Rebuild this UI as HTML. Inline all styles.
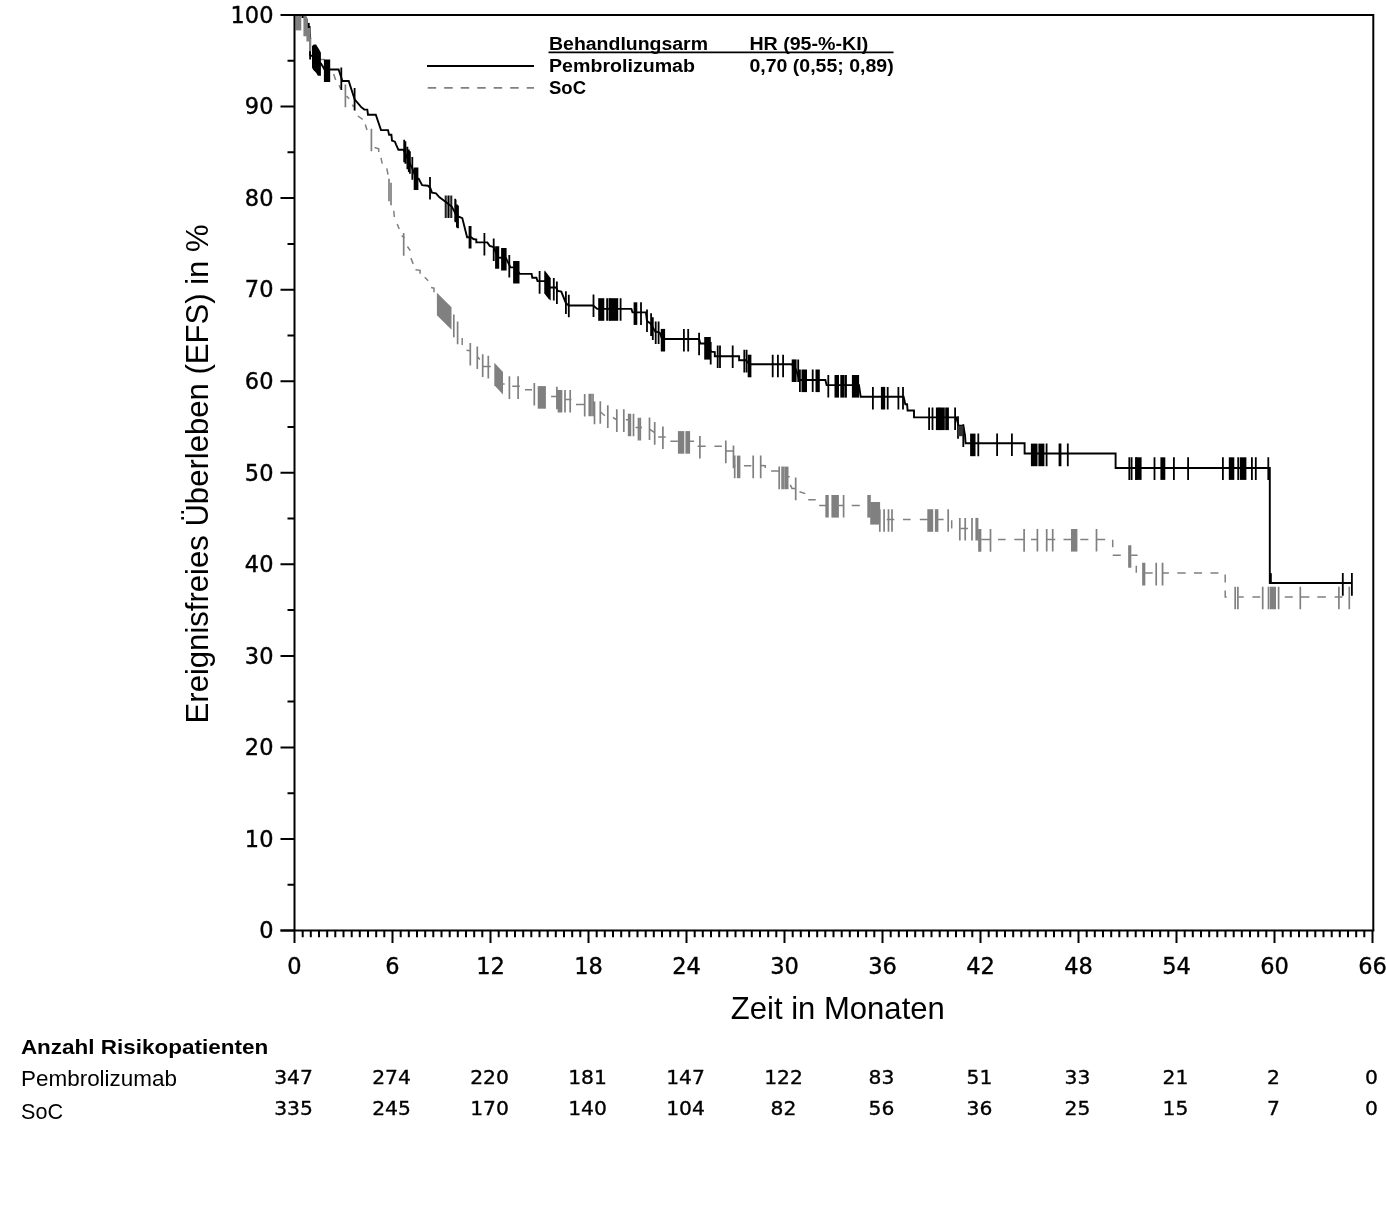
<!DOCTYPE html>
<html lang="de"><head><meta charset="utf-8"><title>EFS Kaplan-Meier</title>
<style>
html,body{margin:0;padding:0;background:#fff}
body{width:1386px;height:1208px;overflow:hidden}
svg{display:block}
.ax{font-family:"DejaVu Sans","Liberation Sans",sans-serif;font-size:22.5px;fill:#000;stroke:#000;stroke-width:.4px}
.nr{font-family:"DejaVu Sans","Liberation Sans",sans-serif;font-size:20.3px;fill:#000;stroke:#000;stroke-width:.35px}
.lb{font-family:"Liberation Sans",Arial,sans-serif;fill:#000}
</style></head><body>
<svg width="1386" height="1208" viewBox="0 0 1386 1208">
<rect width="1386" height="1208" fill="#fff"/>

<defs><clipPath id="cp"><rect x="294.5" y="15" width="1079" height="915.5"/></clipPath></defs>
<g clip-path="url(#cp)">
<g stroke="#808080" fill="none">
<path d="M318.0 59.4L324.6 59.4M333.6 74.0L335.7 80.0M339.0 85.3L340.5 88.5M346.5 96.1L349.2 98.8M352.4 104.7L353.5 106.9M357.8 116.0L362.7 119.3M365.3 124.6L367.0 130.0M374.6 147.5L378.7 148.7L378.7 152.1M381.0 157.9L382.2 163.7M386.8 168.4L388.0 174.7M393.8 210.7L394.3 217.0M397.2 224.0L399.2 229.0M401.7 235.5L404.4 238.0M407.4 246.5L410.3 250.6M410.9 258.1L413.2 263.9M415.5 269.7L420.1 270.3L420.1 273.7M424.8 277.2L428.2 280.7M431.1 287.6L434.0 288.2L434.0 292.3M462.2 338.1L462.2 345.0M466.5 350.3L470.3 350.8M477.3 356.6L479.8 359.5M482.7 366.5L490.8 366.5M502.4 383.9L504.7 383.9M512.3 386.2L519.8 386.2M525.0 389.7L532.0 389.7M551.1 396.6L556.9 396.6M565.0 399.5L571.4 399.5M576.0 404.4L584.6 404.4M600.3 411.7L604.9 415.8M613.0 417.5L616.8 419.8M625.8 419.8L630.4 419.8M635.6 427.4L642.0 427.4M649.5 429.1L654.7 432.6M658.2 437.0L665.7 437.0M670.4 441.3L677.9 441.3M689.5 441.3L694.1 441.3M697.6 446.2L705.7 446.2M714.4 446.2L721.9 446.2M726.0 451.1L733.5 451.1M733.5 456.9L734.7 466.8M743.9 465.8L751.4 465.8M760.7 465.5L765.3 465.8L765.3 468.1M771.1 471.0L779.2 471.0M786.8 476.8L789.7 476.8M790.3 484.9L792.0 488.4L795.7 488.4M799.5 491.8L805.3 493.6M808.2 499.7L815.7 499.7M819.2 505.4L826.2 505.4M838.9 505.4L843.6 505.4M851.7 505.4L859.8 505.4M886.8 519.4L894.3 519.4M903.0 519.4L910.6 519.4M919.8 519.4L927.9 519.4M937.8 519.4L943.6 519.4M951.7 520.3L951.7 528.4M960.4 528.4L967.9 528.4M981.2 539.4L990.5 539.4M998.0 539.4L1005.6 539.4M1014.3 539.4L1023.9 539.4M1031.0 539.4L1037.4 539.4M1046.7 539.4L1055.3 539.4M1063.5 539.4L1071.6 539.4M1080.3 539.4L1088.4 539.4M1096.5 539.4L1105.2 539.4M1112.7 539.7L1112.7 547.2M1112.7 555.3L1120.8 555.3M1131.2 555.3L1137.6 555.3M1136.3 565.7L1136.3 572.7M1145.1 572.9L1152.7 572.9M1162.5 572.9L1168.9 572.9M1177.3 572.9L1185.7 572.9M1193.9 572.9L1202.1 572.9M1210.5 572.9L1218.4 572.9M1225.2 574.6L1225.2 582.6M1225.2 590.5L1225.2 597.0L1226.7 597.0M1238.6 597.0L1243.7 597.0M1252.4 597.0L1260.3 597.0M1284.8 597.0L1292.8 597.0M1300.7 597.0L1309.4 597.0M1317.3 597.0L1325.9 597.0M1334.6 597.0L1342.5 597.0" stroke-width="1.5"/>
<path d="M345.4 84.6v22.6M371.4 128.7v22.6M389.0 178.7v22.6M391.0 182.7v22.6M403.7 233.1v22.6M453.8 314.6v22.6M457.6 321.6v22.6M470.3 343.0v22.6M477.3 346.5v22.6M482.7 354.3v22.6M488.3 355.8v22.6M509.4 376.3v22.6M518.1 376.3v22.6M534.3 383.0v22.6M556.9 386.7v22.6M558.5 389.9v22.6M560.0 389.9v22.6M561.5 389.9v22.6M565.0 389.9v22.6M570.2 389.9v22.6M584.7 394.0v22.6M589.3 393.7v22.6M591.0 393.7v22.6M593.0 393.7v22.6M594.5 401.6v22.6M600.3 401.2v22.6M607.8 405.3v22.6M616.8 409.3v22.6M623.8 409.3v22.6M628.7 413.7v22.6M630.4 413.7v22.6M633.5 413.7v22.6M638.5 417.8v22.6M640.3 417.8v22.6M649.5 417.4v22.6M654.7 422.1v22.6M662.9 426.5v22.6M699.9 436.0v22.6M725.8 440.6v22.6M733.5 445.6v22.6M734.7 455.6v22.6M753.2 455.6v22.6M760.7 455.6v22.6M779.2 466.6v22.6M782.1 466.6v22.6M783.9 466.6v22.6M795.7 477.6v22.6M826.2 495.0v22.6M827.9 495.0v22.6M843.6 495.0v22.6M879.8 509.2v22.6M884.1 509.2v22.6M888.5 509.2v22.6M892.0 509.2v22.6M948.2 509.2v22.6M959.8 517.9v22.6M965.2 517.9v22.6M972.0 517.9v22.6M979.0 529.1v22.6M980.5 529.1v22.6M990.5 529.1v22.6M1024.1 529.1v22.6M1037.4 529.0v22.6M1046.7 529.0v22.6M1052.7 529.0v22.6M1096.5 529.0v22.6M1129.0 545.2v22.6M1130.5 545.2v22.6M1143.0 562.8v22.6M1144.5 562.8v22.6M1156.2 562.8v22.6M1162.5 562.8v22.6M1162.6 562.9v22.6M1235.2 586.7v22.6M1237.9 586.7v22.6M1262.7 586.7v22.6M1268.5 586.7v22.6M1278.6 586.7v22.6M1300.3 586.7v22.6M1338.9 586.7v22.6M1349.3 586.7v22.6" stroke-width="1.7"/>
</g><g fill="#808080">
<polygon points="436.9,292.7 451.5,307.2 451.5,329.8 436.9,315.3"/>
<polygon points="494.3,362.7 503.0,372.0 503.0,394.6 494.3,385.3"/>
<polygon points="537.7,386.1 545.9,386.1 545.9,408.7 537.7,408.7"/>
<polygon points="677.9,431.1 684.3,431.1 684.3,453.7 677.9,453.7"/>
<polygon points="685.4,431.1 690.1,431.1 690.1,453.7 685.4,453.7"/>
<polygon points="736.9,455.6 740.4,455.6 740.4,478.2 736.9,478.2"/>
<polygon points="785.0,466.6 788.5,466.6 788.5,489.2 785.0,489.2"/>
<polygon points="831.4,495.0 838.9,495.0 838.9,517.6 831.4,517.6"/>
<polygon points="867.3,495.0 870.8,495.0 870.8,517.6 867.3,517.6"/>
<polygon points="870.2,502.0 880.1,502.0 880.1,524.6 870.2,524.6"/>
<polygon points="927.3,509.2 933.2,509.2 933.2,531.8 927.3,531.8"/>
<polygon points="934.9,509.2 938.4,509.2 938.4,531.8 934.9,531.8"/>
<polygon points="975.4,517.9 978.4,517.9 978.4,540.5 975.4,540.5"/>
<polygon points="1071.0,529.0 1077.4,529.0 1077.4,551.6 1071.0,551.6"/>
<polygon points="1269.8,586.7 1276.0,586.7 1276.0,609.3 1269.8,609.3"/>
</g>
<g stroke="#000" fill="none">
<polyline points="294.5,15.0 302.5,15.0 302.5,17.0 305.0,17.0 305.0,20.0 307.0,20.0 307.0,27.0 309.6,27.0 310.1,40.0 310.1,55.0 312.0,56.0 316.0,59.0 321.0,63.5 324.6,69.5 338.6,69.5 342.4,81.0 348.7,81.0 354.6,99.3 361.0,106.9 364.3,109.6 367.3,109.6 368.0,114.7 375.8,114.7 381.0,130.1 388.0,130.1 389.1,134.8 391.4,134.8 392.0,140.6 394.9,141.7 396.1,144.6 398.4,149.8 403.6,149.8 408.8,161.4 412.3,168.4 416.3,178.8 418.7,178.8 422.1,185.2 427.9,185.7 430.3,188.1 432.0,192.7 436.0,193.3 439.5,197.3 444.2,200.8 451.7,206.6 456.9,215.9 462.3,218.1 467.1,237.2 471.1,237.2 473.4,239.0 476.3,239.5 476.3,242.4 487.3,242.4 489.7,245.9 493.7,247.1 497.8,257.5 505.9,258.1 510.5,267.4 514.0,267.4 517.5,270.8 519.8,273.9 531.6,273.9 532.3,277.7 536.4,277.7 537.5,281.1 545.1,281.1 549.7,287.5 556.1,287.5 557.8,291.0 561.3,291.6 565.9,303.2 568.8,305.5 593.2,305.5 597.2,308.9 631.4,308.9 632.5,312.4 645.9,312.4 647.0,321.1 650.5,323.4 655.1,331.5 659.8,332.7 662.1,339.0 699.1,339.0 700.3,343.5 704.9,343.5 711.3,351.6 714.8,352.1 714.8,356.2 739.1,356.2 739.1,360.3 746.0,360.3 749.5,364.3 791.8,364.3 795.9,369.5 799.4,380.0 825.4,380.0 826.6,385.1 859.0,385.1 860.7,396.8 903.6,396.8 905.3,404.3 907.1,404.3 907.6,410.5 914.0,410.5 914.0,417.4 956.3,417.4 958.6,425.7 963.3,425.7 965.0,435.0 965.6,443.2 1024.6,443.2 1024.6,453.5 1115.6,453.5 1115.6,468.0 1269.8,468.0 1269.8,583.0 1351.9,583.0" stroke-width="1.9" stroke-linejoin="miter"/>
<path d="M310.1 36.8v22.6M341.3 67.5v22.6M354.6 88.0v22.6M404.2 139.7v22.6M405.4 141.2v22.6M407.4 146.7v22.6M408.8 149.5v22.6M409.9 151.2v22.6M455.6 199.7v22.6M457.4 205.2v22.6M412.3 157.1v22.6M414.6 167.5v22.6M416.3 167.5v22.6M417.5 167.5v22.6M430.0 177.0v22.6M455.2 198.8v22.6M456.9 204.6v22.6M458.0 205.7v22.6M469.5 225.9v22.6M470.6 225.9v22.6M484.4 232.9v22.6M493.7 238.4v22.6M496.0 246.2v22.6M497.2 246.2v22.6M498.3 246.2v22.6M509.3 254.9v22.6M514.0 261.0v22.6M515.1 261.0v22.6M516.9 261.0v22.6M518.6 261.0v22.6M539.6 271.1v22.6M553.8 277.9v22.6M556.9 281.4v22.6M565.9 291.3v22.6M568.8 294.7v22.6M593.5 294.4v22.6M607.1 298.2v22.6M609.4 298.2v22.6M620.6 298.2v22.6M641.0 302.3v22.6M647.0 309.5v22.6M651.1 313.3v22.6M652.8 317.3v22.6M655.7 321.4v22.6M658.6 321.4v22.6M683.9 328.9v22.6M688.2 328.9v22.6M699.1 332.7v22.6M710.7 342.0v22.6M717.7 345.5v22.6M720.0 345.5v22.6M732.7 345.5v22.6M744.3 349.8v22.6M746.6 349.8v22.6M772.7 354.7v22.6M777.9 354.7v22.6M783.1 354.7v22.6M798.2 359.4v22.6M799.9 369.5v22.6M812.7 369.5v22.6M828.3 375.0v22.6M872.9 386.9v22.6M887.7 386.9v22.6M898.4 386.9v22.6M903.0 386.9v22.6M929.1 407.5v22.6M932.5 407.5v22.6M955.1 407.5v22.6M958.0 416.2v22.6M963.3 424.3v22.6M978.3 433.6v22.6M997.1 433.4v22.6M1011.9 433.4v22.6M1046.6 443.6v22.6M1059.5 443.6v22.6M1060.5 443.6v22.6M1067.8 443.6v22.6M1129.3 457.3v22.6M1131.6 457.3v22.6M1136.2 457.3v22.6M1154.5 457.3v22.6M1173.9 457.3v22.6M1188.1 457.3v22.6M1222.9 457.3v22.6M1238.2 457.3v22.6M1251.9 457.3v22.6M1255.8 457.3v22.6M1268.3 457.3v22.6M1342.8 573.1v22.6M1351.9 573.1v22.6" stroke-width="1.8"/>
<path d="M445.3 195.5v22.6M446.9 195.5v22.6M448.5 195.5v22.6M450.1 195.5v22.6M451.7 195.5v22.6" stroke-width="1.15"/>
</g><g fill="#000">
<polygon points="323.9,59.5 330.2,59.5 330.2,82.1 323.9,82.1"/>
<polygon points="501.1,247.9 506.6,247.9 506.6,270.5 501.1,270.5"/>
<polygon points="544.4,271.0 549.5,277.4 549.5,300.0 544.4,293.6"/>
<polygon points="544.6,270.2 550.7,278.2 550.7,300.8 544.6,292.8"/>
<polygon points="598.2,298.2 604.3,298.2 604.3,320.8 598.2,320.8"/>
<polygon points="609.3,298.2 618.2,298.2 618.2,320.8 609.3,320.8"/>
<polygon points="633.6,302.3 637.3,302.3 637.3,324.9 633.6,324.9"/>
<polygon points="660.8,328.9 665.1,328.9 665.1,351.5 660.8,351.5"/>
<polygon points="704.2,337.0 710.8,337.0 710.8,359.6 704.2,359.6"/>
<polygon points="747.7,354.7 751.4,354.7 751.4,377.3 747.7,377.3"/>
<polygon points="791.7,359.4 796.6,359.4 796.6,382.0 791.7,382.0"/>
<polygon points="801.5,369.5 807.0,369.5 807.0,392.1 801.5,392.1"/>
<polygon points="815.5,369.5 819.8,369.5 819.8,392.1 815.5,392.1"/>
<polygon points="834.5,375.0 839.0,375.0 839.0,397.6 834.5,397.6"/>
<polygon points="840.3,375.0 844.0,375.0 844.0,397.6 840.3,397.6"/>
<polygon points="844.3,375.0 846.9,375.0 846.9,397.6 844.3,397.6"/>
<polygon points="851.9,375.0 859.1,375.0 859.1,397.6 851.9,397.6"/>
<polygon points="880.9,386.9 885.2,386.9 885.2,409.5 880.9,409.5"/>
<polygon points="935.9,407.5 939.6,407.5 939.6,430.1 935.9,430.1"/>
<polygon points="938.8,407.5 944.8,407.5 944.8,430.1 938.8,430.1"/>
<polygon points="945.2,407.5 948.9,407.5 948.9,430.1 945.2,430.1"/>
<polygon points="970.1,433.6 975.5,433.6 975.5,456.2 970.1,456.2"/>
<polygon points="1030.9,443.6 1037.5,443.6 1037.5,466.2 1030.9,466.2"/>
<polygon points="1038.4,443.6 1044.4,443.6 1044.4,466.2 1038.4,466.2"/>
<polygon points="1135.2,457.3 1141.6,457.3 1141.6,479.9 1135.2,479.9"/>
<polygon points="1160.4,457.3 1165.3,457.3 1165.3,479.9 1160.4,479.9"/>
<polygon points="1228.8,457.3 1234.3,457.3 1234.3,479.9 1228.8,479.9"/>
<polygon points="1239.8,457.3 1246.4,457.3 1246.4,479.9 1239.8,479.9"/>
<polygon points="312,46 313.8,44.5 316.1,44.5 319.8,50.5 320.9,52.7 320.9,75.8 317.9,75.8 316.1,72.8 313.1,69.8 312,67.6"/>
</g>
<g fill="#808080"><rect x="295.6" y="15" width="5.7" height="15.4"/>
<polygon points="303.4,15 306,15 307.9,19.2 307.9,27.7 310.5,27.7 310.5,37.8 311.6,37.8 311.6,39.3 311.2,39.3 311.2,51.2 309,51.2 309,41.5 306.4,41.5 306.4,36.3 303.4,36.3"/></g>
<rect x="307.9" y="22.9" width="1.8" height="4.8" fill="#000"/>
<rect x="957.6" y="425.7" width="5.7" height="10.5" fill="#333"/>
<rect x="1269.6" y="573.2" width="2.2" height="10.5" fill="#000"/>
</g>
<g stroke="#000" stroke-width="2" fill="none">
<path d="M294.5 930.5V15H1373.3V930.5"/>
<path d="M280.5 930.5H1374.3"/>
<path d="M280.5 930.5H294.5M287.5 884.7H294.5M280.5 839.0H294.5M287.5 793.2H294.5M280.5 747.4H294.5M287.5 701.6H294.5M280.5 655.9H294.5M287.5 610.1H294.5M280.5 564.3H294.5M287.5 518.5H294.5M280.5 472.8H294.5M287.5 427.0H294.5M280.5 381.2H294.5M287.5 335.4H294.5M280.5 289.7H294.5M287.5 243.9H294.5M280.5 198.1H294.5M287.5 152.3H294.5M280.5 106.6H294.5M287.5 60.8H294.5M280.5 15.0H294.5"/>
<path d="M294.5 930.5V943M302.7 930.5V937.2M310.8 930.5V937.2M319.0 930.5V937.2M327.2 930.5V937.2M335.3 930.5V937.2M343.5 930.5V937.2M351.7 930.5V937.2M359.8 930.5V937.2M368.0 930.5V937.2M376.2 930.5V937.2M384.3 930.5V937.2M392.5 930.5V943M400.7 930.5V937.2M408.8 930.5V937.2M417.0 930.5V937.2M425.2 930.5V937.2M433.3 930.5V937.2M441.5 930.5V937.2M449.7 930.5V937.2M457.8 930.5V937.2M466.0 930.5V937.2M474.2 930.5V937.2M482.3 930.5V937.2M490.5 930.5V943M498.7 930.5V937.2M506.8 930.5V937.2M515.0 930.5V937.2M523.2 930.5V937.2M531.3 930.5V937.2M539.5 930.5V937.2M547.7 930.5V937.2M555.8 930.5V937.2M564.0 930.5V937.2M572.2 930.5V937.2M580.3 930.5V937.2M588.5 930.5V943M596.7 930.5V937.2M604.8 930.5V937.2M613.0 930.5V937.2M621.2 930.5V937.2M629.3 930.5V937.2M637.5 930.5V937.2M645.7 930.5V937.2M653.8 930.5V937.2M662.0 930.5V937.2M670.2 930.5V937.2M678.3 930.5V937.2M686.5 930.5V943M694.7 930.5V937.2M702.8 930.5V937.2M711.0 930.5V937.2M719.2 930.5V937.2M727.3 930.5V937.2M735.5 930.5V937.2M743.7 930.5V937.2M751.8 930.5V937.2M760.0 930.5V937.2M768.2 930.5V937.2M776.3 930.5V937.2M784.5 930.5V943M792.7 930.5V937.2M800.8 930.5V937.2M809.0 930.5V937.2M817.2 930.5V937.2M825.3 930.5V937.2M833.5 930.5V937.2M841.7 930.5V937.2M849.8 930.5V937.2M858.0 930.5V937.2M866.2 930.5V937.2M874.3 930.5V937.2M882.5 930.5V943M890.7 930.5V937.2M898.8 930.5V937.2M907.0 930.5V937.2M915.2 930.5V937.2M923.3 930.5V937.2M931.5 930.5V937.2M939.7 930.5V937.2M947.8 930.5V937.2M956.0 930.5V937.2M964.2 930.5V937.2M972.3 930.5V937.2M980.5 930.5V943M988.7 930.5V937.2M996.8 930.5V937.2M1005.0 930.5V937.2M1013.2 930.5V937.2M1021.3 930.5V937.2M1029.5 930.5V937.2M1037.7 930.5V937.2M1045.8 930.5V937.2M1054.0 930.5V937.2M1062.2 930.5V937.2M1070.3 930.5V937.2M1078.5 930.5V943M1086.7 930.5V937.2M1094.8 930.5V937.2M1103.0 930.5V937.2M1111.2 930.5V937.2M1119.3 930.5V937.2M1127.5 930.5V937.2M1135.7 930.5V937.2M1143.8 930.5V937.2M1152.0 930.5V937.2M1160.2 930.5V937.2M1168.3 930.5V937.2M1176.5 930.5V943M1184.7 930.5V937.2M1192.8 930.5V937.2M1201.0 930.5V937.2M1209.2 930.5V937.2M1217.3 930.5V937.2M1225.5 930.5V937.2M1233.7 930.5V937.2M1241.8 930.5V937.2M1250.0 930.5V937.2M1258.2 930.5V937.2M1266.3 930.5V937.2M1274.5 930.5V943M1282.7 930.5V937.2M1290.8 930.5V937.2M1299.0 930.5V937.2M1307.2 930.5V937.2M1315.3 930.5V937.2M1323.5 930.5V937.2M1331.7 930.5V937.2M1339.8 930.5V937.2M1348.0 930.5V937.2M1356.2 930.5V937.2M1364.3 930.5V937.2M1372.5 930.5V943"/>
</g>
<g class="ax" text-anchor="end">
<text x="273.5" y="938.2">0</text>
<text x="273.5" y="846.7">10</text>
<text x="273.5" y="755.1">20</text>
<text x="273.5" y="663.6">30</text>
<text x="273.5" y="572.0">40</text>
<text x="273.5" y="480.5">50</text>
<text x="273.5" y="388.9">60</text>
<text x="273.5" y="297.4">70</text>
<text x="273.5" y="205.8">80</text>
<text x="273.5" y="114.3">90</text>
<text x="273.5" y="22.7">100</text>
</g>
<g class="ax" text-anchor="middle">
<text x="294.5" y="973.8">0</text>
<text x="392.5" y="973.8">6</text>
<text x="490.5" y="973.8">12</text>
<text x="588.5" y="973.8">18</text>
<text x="686.5" y="973.8">24</text>
<text x="784.5" y="973.8">30</text>
<text x="882.5" y="973.8">36</text>
<text x="980.5" y="973.8">42</text>
<text x="1078.5" y="973.8">48</text>
<text x="1176.5" y="973.8">54</text>
<text x="1274.5" y="973.8">60</text>
<text x="1372.5" y="973.8">66</text>
</g>
<text class="lb" font-size="30.5" x="730.8" y="1019" textLength="214" lengthAdjust="spacingAndGlyphs">Zeit in Monaten</text>
<text class="lb" font-size="31.5" transform="translate(207.6,723.4) rotate(-90)" textLength="499" lengthAdjust="spacingAndGlyphs">Ereignisfreies Überleben (EFS) in %</text>
<g class="lb" font-size="18" font-weight="bold">
<text x="549" y="49.5" textLength="159" lengthAdjust="spacingAndGlyphs">Behandlungsarm</text>
<text x="749.4" y="49.5" textLength="118.8" lengthAdjust="spacingAndGlyphs">HR (95-%-KI)</text>
<text x="549" y="72" textLength="146" lengthAdjust="spacingAndGlyphs">Pembrolizumab</text>
<text x="749.4" y="72" textLength="144.3" lengthAdjust="spacingAndGlyphs">0,70 (0,55; 0,89)</text>
<text x="549" y="94.3" textLength="37" lengthAdjust="spacingAndGlyphs">SoC</text>
</g>
<path d="M548.5 52.4H893.5" stroke="#000" stroke-width="1.6"/>
<path d="M427 66H534" stroke="#000" stroke-width="2"/>
<path d="M427.7 87.9H534" stroke="#808080" stroke-width="1.7" stroke-dasharray="8.5 8"/>
<text class="lb" font-size="21" font-weight="bold" x="20.9" y="1054.2" textLength="247.3" lengthAdjust="spacingAndGlyphs">Anzahl Risikopatienten</text>
<text class="lb" font-size="22" x="21" y="1086.4" textLength="156" lengthAdjust="spacingAndGlyphs">Pembrolizumab</text>
<text class="lb" font-size="22" x="21" y="1118.6" textLength="42" lengthAdjust="spacingAndGlyphs">SoC</text>
<g class="nr" text-anchor="middle">
<text x="293.5" y="1084.1">347</text>
<text x="391.5" y="1084.1">274</text>
<text x="489.5" y="1084.1">220</text>
<text x="587.5" y="1084.1">181</text>
<text x="685.5" y="1084.1">147</text>
<text x="783.5" y="1084.1">122</text>
<text x="881.5" y="1084.1">83</text>
<text x="979.5" y="1084.1">51</text>
<text x="1077.5" y="1084.1">33</text>
<text x="1175.5" y="1084.1">21</text>
<text x="1273.5" y="1084.1">2</text>
<text x="1371.5" y="1084.1">0</text>
<text x="293.5" y="1115.1">335</text>
<text x="391.5" y="1115.1">245</text>
<text x="489.5" y="1115.1">170</text>
<text x="587.5" y="1115.1">140</text>
<text x="685.5" y="1115.1">104</text>
<text x="783.5" y="1115.1">82</text>
<text x="881.5" y="1115.1">56</text>
<text x="979.5" y="1115.1">36</text>
<text x="1077.5" y="1115.1">25</text>
<text x="1175.5" y="1115.1">15</text>
<text x="1273.5" y="1115.1">7</text>
<text x="1371.5" y="1115.1">0</text>
</g>
</svg></body></html>
